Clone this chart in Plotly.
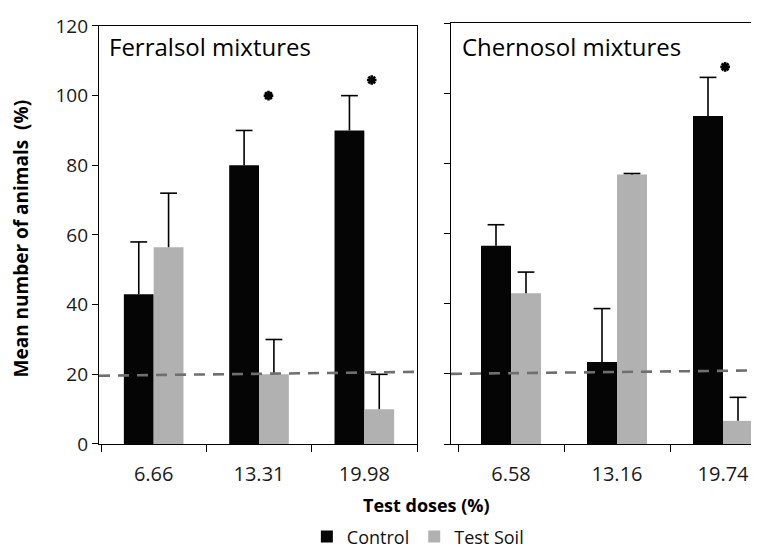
import plotly.graph_objects as go

# ---------------- data ----------------
doses_ferralsol = ["6.66", "13.31", "19.98"]
doses_chernosol = ["6.58", "13.16", "19.74"]

ferr_control = [43, 80, 90]
ferr_control_err = [15, 10, 10]
ferr_test = [56.5, 20, 10]
ferr_test_err = [15.5, 10, 10]

cher_control = [56.5, 23.4, 93.5]
cher_control_err = [6, 15.2, 11]
cher_test = [43, 76.8, 6.6]
cher_test_err = [6, 0.3, 6.7]

# significance asterisks: dose index, offset within group, height
ferr_sig_idx = [1, 2]
ferr_sig_off = [0.09, 0.07]
ferr_sig_y = [100, 104.5]
cher_sig_idx = [2]
cher_sig_off = [0.02]
cher_sig_y = [107.5]

# dashed reference line (start, end value)
ref_ferr = [19.6, 20.7]
ref_cher = [20.0, 21.0]

series_names = ["Control", "Test Soil"]
y_ticks = [0, 20, 40, 60, 80, 100, 120]

# ---------------- styling ----------------
BLACK = "#050505"
GREY = "#b1b1b1"
DASH = "#6f6f6f"
FONT = "Open Sans"
BARGAP = 0.434

W, H = 759, 548
ML, MR, MT, MB = 0, 0, 15, 107
PH = H - MT - MB
PLOT_BOTTOM = H - MB


def py(px):
    """pixel row -> paper y"""
    return (PLOT_BOTTOM - px) / PH


x_left_range = [-0.519, 2.5]
x_right_range = [-0.566, 2.415]

fig = go.Figure()
half = (1 - BARGAP) / 4  # centre offset of each bar within a group


def add_panel(xa, ya, ctrl, ctrl_err, test, test_err, showlegend):
    xs = list(range(len(ctrl)))
    for vals, color, name, grp in [
        (ctrl, BLACK, series_names[0], "c"),
        (test, GREY, series_names[1], "t"),
    ]:
        fig.add_trace(go.Bar(
            x=xs, y=vals, name=name, marker=dict(color=color, line=dict(width=0)),
            xaxis=xa, yaxis=ya, showlegend=showlegend, legendgroup=grp))
    # upper error bars: stems + caps
    for vals, errs, sign in [(ctrl, ctrl_err, -1), (test, test_err, 1)]:
        sx, sy = [], []
        for i, v, e in zip(xs, vals, errs):
            sx += [i + sign * half, i + sign * half, None]
            sy += [v, v + e, None]
        fig.add_trace(go.Scatter(x=sx, y=sy, mode="lines",
                                 line=dict(color="black", width=1.6),
                                 xaxis=xa, yaxis=ya, showlegend=False, hoverinfo="skip"))
        fig.add_trace(go.Scatter(
            x=[i + sign * half for i in xs], y=[v + e for v, e in zip(vals, errs)],
            mode="markers", marker=dict(symbol="line-ew", size=12, color="black",
                                        line=dict(color="black", width=1.6)),
            xaxis=xa, yaxis=ya, showlegend=False, hoverinfo="skip"))


add_panel("x", "y", ferr_control, ferr_control_err, ferr_test, ferr_test_err, True)
add_panel("x2", "y2", cher_control, cher_control_err, cher_test, cher_test_err, False)

# reference lines
fig.add_trace(go.Scatter(x=x_left_range, y=ref_ferr, mode="lines",
                         line=dict(color=DASH, width=2.6, dash="11px,8px"),
                         xaxis="x", yaxis="y", showlegend=False, hoverinfo="skip"))
fig.add_trace(go.Scatter(x=x_right_range, y=ref_cher, mode="lines",
                         line=dict(color=DASH, width=2.6, dash="11px,8px"),
                         xaxis="x2", yaxis="y2", showlegend=False, hoverinfo="skip"))

# asterisks
star = dict(symbol="asterisk-open", size=8, color="black", line=dict(color="black", width=2.6))
fig.add_trace(go.Scatter(x=[i + o for i, o in zip(ferr_sig_idx, ferr_sig_off)], y=ferr_sig_y,
                         mode="markers", marker=star,
                         xaxis="x", yaxis="y", showlegend=False, hoverinfo="skip"))
fig.add_trace(go.Scatter(x=[i + o for i, o in zip(cher_sig_idx, cher_sig_off)], y=cher_sig_y,
                         mode="markers", marker=star,
                         xaxis="x2", yaxis="y2", showlegend=False, hoverinfo="skip"))

xtickfont = dict(family=FONT, size=20, color="#1a1a1a")
ytickfont = dict(family=FONT, size=19, color="#1a1a1a")
bounds = [-0.5, 0.5, 1.5, 2.5]

common_x = dict(showline=True, linecolor="black", linewidth=1.4, showgrid=False, zeroline=False,
                ticks="", ticklen=0, tickfont=xtickfont, fixedrange=True, ticklabelstandoff=12,
                minor=dict(tickvals=bounds, ticks="outside", ticklen=7, tickwidth=1.4, tickcolor="black"))
common_y = dict(range=[0, 120], tickvals=y_ticks, ticks="outside", ticklen=6, tickwidth=1.4,
                tickcolor="black", showline=True, linecolor="black", linewidth=1.4,
                showgrid=False, zeroline=False, fixedrange=True)

fig.update_layout(
    width=W, height=H, autosize=False,
    margin=dict(l=ML, r=MR, t=MT, b=MB),
    paper_bgcolor="white", plot_bgcolor="white",
    barmode="group", bargap=BARGAP, bargroupgap=0,
    font=dict(family=FONT, color="black"),
    xaxis=dict(domain=[91 / W, 409 / W], range=x_left_range, tickmode="array",
               tickvals=list(range(3)), ticktext=doses_ferralsol, mirror=True, anchor="y",
               **common_x),
    xaxis2=dict(domain=[443 / W, 1], range=x_right_range, tickmode="array",
                tickvals=list(range(3)), ticktext=doses_chernosol, mirror=True, anchor="y2",
                **common_x),
    yaxis=dict(domain=[0.0, 0.993], mirror=True, tickfont=ytickfont, anchor="x",
               ticksuffix="\u00a0\u00a0", **common_y),
    yaxis2=dict(domain=[0, 1], mirror=False, showticklabels=False, anchor="x2", **common_y),
    legend=dict(orientation="h", x=0.54, xanchor="center", y=py(535),
                yanchor="middle", font=dict(family=FONT, size=18, color="#111"),
                bgcolor="rgba(0,0,0,0)", itemwidth=30, tracegroupgap=0),
)

fig.add_annotation(text="<b>Mean number of animals  (%)</b>", textangle=-90,
                   x=13 / W, y=py(233), xref="paper", yref="paper",
                   xanchor="center", yanchor="middle", showarrow=False,
                   font=dict(family=FONT, size=19, color="black"))
fig.add_annotation(text="<b>Test doses (%)</b>", x=418 / W, y=py(503),
                   xref="paper", yref="paper", xanchor="center", yanchor="middle",
                   showarrow=False, font=dict(family=FONT, size=18, color="black"))
fig.add_annotation(text="Ferralsol mixtures", x=99 / W, y=py(39),
                   xref="paper", yref="paper", xanchor="left", yanchor="middle",
                   showarrow=False, font=dict(family=FONT, size=24, color="black"))
fig.add_annotation(text="Chernosol mixtures", x=452 / W, y=py(39),
                   xref="paper", yref="paper", xanchor="left", yanchor="middle",
                   showarrow=False, font=dict(family=FONT, size=24, color="black"))

fig.write_html("out.html")
